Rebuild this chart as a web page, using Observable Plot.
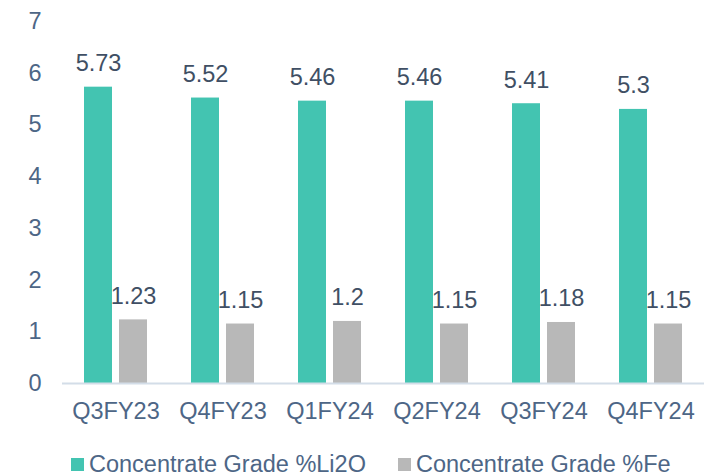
<!DOCTYPE html>
<html>
<head>
<meta charset="utf-8">
<script src="https://cdn.jsdelivr.net/npm/d3@7"></script>
<script src="https://cdn.jsdelivr.net/npm/@observablehq/plot@0.6"></script>
<style>
  html, body { margin: 0; padding: 0; background: #fff; overflow: hidden; }
  #wrap { position: relative; width: 727px; height: 476px; font-family: "Liberation Sans", Arial, sans-serif; overflow: hidden; }
  #chart svg { display: block; }
  #legend { position: absolute; left: 71px; top: 453px; height: 22px; line-height: 22px; display: flex; align-items: center; font-size: 23.5px; color: #4d6686; white-space: nowrap; }
  .item { display: flex; align-items: center; }
  .sw { width: 13px; height: 13px; margin-right: 5px; }
</style>
</head>
<body>
<div id="wrap">
  <div id="chart"></div>
  <div id="legend"></div>
</div>
<script>
const quarters = ["Q3FY23", "Q4FY23", "Q1FY24", "Q2FY24", "Q3FY24", "Q4FY24"];
const seriesNames = ["Concentrate Grade %Li2O", "Concentrate Grade %Fe"];
const li2o = [5.73, 5.52, 5.46, 5.46, 5.41, 5.3];
const fe = [1.23, 1.15, 1.2, 1.15, 1.18, 1.15];
const yTicks = [0, 1, 2, 3, 4, 5, 6, 7];
const colors = ["#43c4b1", "#b8b8b8"];

const rows = [];
quarters.forEach((q, i) => {
  rows.push({quarter: q, series: seriesNames[0], value: li2o[i]});
  rows.push({quarter: q, series: seriesNames[1], value: fe[i]});
});

const chart = Plot.plot({
  width: 727,
  height: 445,
  marginLeft: 61,
  marginRight: 22,
  marginTop: 21,
  marginBottom: 62,
  style: {fontFamily: "Liberation Sans, Arial, sans-serif", fontSize: "23.5px", color: "#4d6686", background: "#fff"},
  fx: {domain: quarters, padding: 0, label: null, tickSize: 0, tickPadding: 19, axis: "bottom"},
  x: {domain: seriesNames, paddingInner: 0.204, paddingOuter: 0.6, axis: null},
  y: {domain: [0, 7], ticks: yTicks, tickFormat: d => String(d), tickSize: 0, tickPadding: 21, label: null},
  color: {domain: seriesNames, range: colors},
  marks: [
    Plot.barY(rows, {fx: "quarter", x: "series", y: "value", fill: "series"}),
    Plot.ruleY([0], {stroke: "#d3dde8", strokeWidth: 2}),
    Plot.text(rows, {fx: "quarter", x: "series", y: "value", text: d => String(d.value), lineAnchor: "bottom", dy: -16, fill: "#404f64", fontSize: 23.5})
  ]
});
document.getElementById("chart").appendChild(chart);

const legend = document.getElementById("legend");
seriesNames.forEach((name, i) => {
  const item = document.createElement("div");
  item.className = "item";
  if (i > 0) item.style.marginLeft = "32px";
  const sw = document.createElement("div");
  sw.className = "sw";
  sw.style.background = colors[i];
  const label = document.createElement("span");
  label.textContent = name;
  item.appendChild(sw);
  item.appendChild(label);
  legend.appendChild(item);
});
</script>
</body>
</html>
